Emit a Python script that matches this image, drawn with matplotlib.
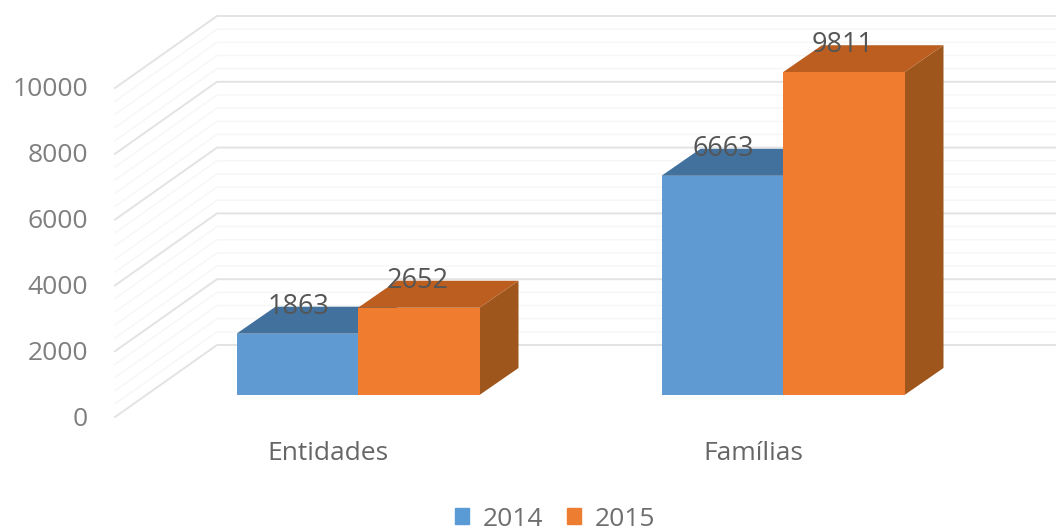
import numpy as np
import matplotlib
matplotlib.use('Agg')
import matplotlib.pyplot as plt
from matplotlib.patches import Patch, Polygon

plt.rcParams['font.family'] = ['Open Sans', 'DejaVu Sans']

categories = ['Entidades', 'Famílias']
years = ['2014', '2015']
values_2014 = [1863, 6663]
values_2015 = [2652, 9811]
yticks = [0, 2000, 4000, 6000, 8000, 10000]

W, H = 1056, 531
# picture scale: pixels per category step and per unit of value
px_x = 425.0
px_y = 0.0329
x0 = 358.0      # pixel of first category
y0 = 395.0      # pixel of value 0 on the bar plane


def dx(px):
    return px / px_x


def dy(px):
    return px / px_y


fig = plt.figure(figsize=(W / 100, H / 100), dpi=100)
ax = fig.add_axes([0, 0, 1, 1])
ax.set_xlim(-x0 / px_x, (W - x0) / px_x)
ax.set_ylim(-(H - y0) / px_y, y0 / px_y)
ax.axis('off')

# walls: left wall runs from the front edge to the back wall
wall_x0 = -dx(x0 - 115)
wall_x1 = -dx(x0 - 217)
wall_right = (W - x0) / px_x
front_shift = -dy(417 - y0)
back_shift = dy(y0 - 345)

for v in np.arange(0, 10001, 400):
    major = v % 2000 == 0
    color = '#e3e3e3' if major else '#f6f6f6'
    lw = 1.4 if major else 1.0
    ax.plot([wall_x0, wall_x1, wall_right],
            [v + front_shift, v + back_shift, v + back_shift],
            color=color, lw=lw, zorder=1)

for v in yticks:
    ax.text(wall_x0 - dx(27), v + front_shift - dy(2), str(v), ha='right', va='center',
            fontsize=19, color='#7f7f7f')


def bar3d(left, width, value, front, top, side):
    depth_x, depth_y = dx(39), dy(27)
    right = left + width
    ax.add_patch(Polygon([(right, 0), (right + depth_x, depth_y),
                          (right + depth_x, value + depth_y), (right, value)],
                         color=side, lw=0, zorder=2))
    ax.add_patch(Polygon([(left, value), (right, value),
                          (right + depth_x, value + depth_y), (left + depth_x, value + depth_y)],
                         color=top, lw=0, zorder=2))
    ax.add_patch(Polygon([(left, 0), (right, 0), (right, value), (left, value)],
                         color=front, lw=0, zorder=2))


bar_w = dx(121.5)
for i, (a, b) in enumerate(zip(values_2014, values_2015)):
    bar3d(i - bar_w, bar_w, a, '#5f9ad3', '#41719c', '#37608a')
    bar3d(i, bar_w, b, '#f07c30', '#bb5e1f', '#9e561d')
    ax.text(i - bar_w + dx(62), a + dy(27), str(a), ha='center', va='center',
            fontsize=19.5, color='#555555', zorder=3)
    ax.text(i + dx(60), b + dy(27), str(b), ha='center', va='center',
            fontsize=19.5, color='#555555', zorder=3)
    ax.text(i - dx(30), -dy(59), categories[i], ha='center', va='center',
            fontsize=19, color='#666666')

handles = [Patch(color='#5b9bd5', label=years[0]), Patch(color='#ed7d31', label=years[1])]
ax.legend(handles=handles, loc='center', bbox_to_anchor=(555 / W, 1 - 519 / H), ncol=2,
          frameon=False, fontsize=19, labelcolor='#6e6e6e', handlelength=0.55,
          handleheight=0.55, handletextpad=0.5, columnspacing=0.9, borderpad=0)

fig.savefig('out.png', dpi=100)
